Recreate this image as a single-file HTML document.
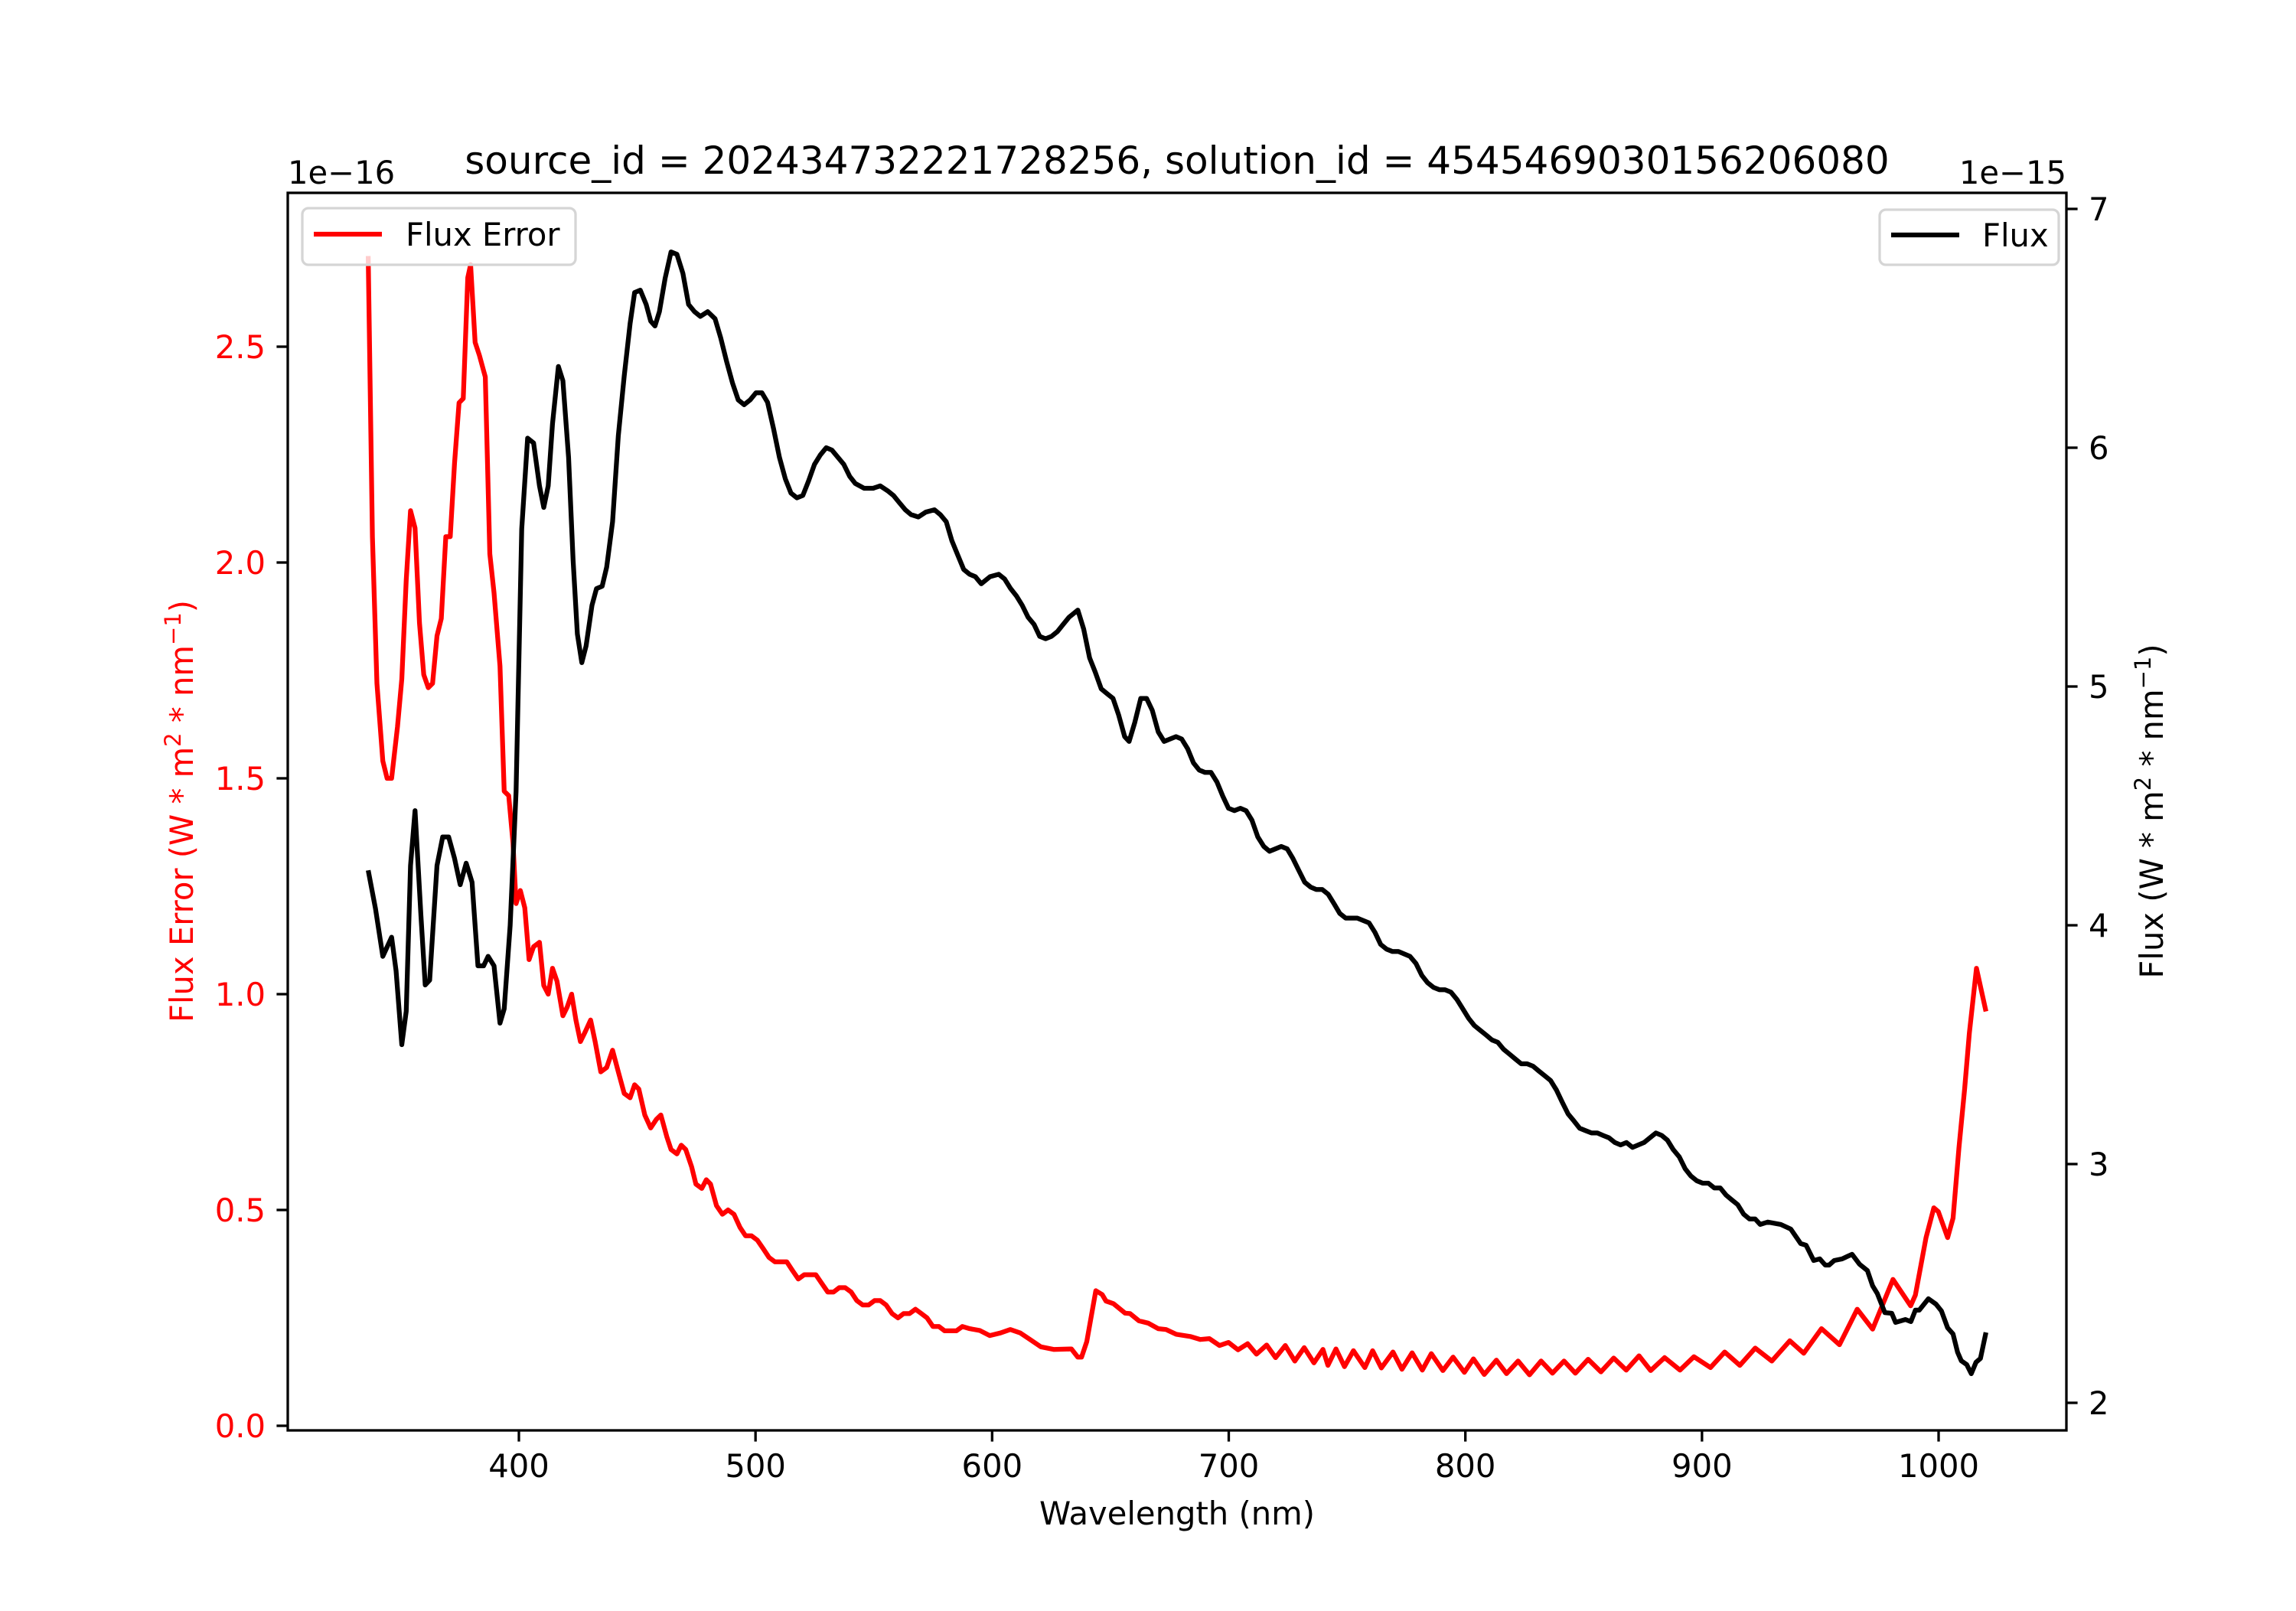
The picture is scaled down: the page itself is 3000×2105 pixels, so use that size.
<!DOCTYPE html>
<html><head><meta charset="utf-8"><style>
html,body{margin:0;padding:0;background:#fff}
svg text{font-family:"DejaVu Sans","Liberation Sans",sans-serif}
</style></head><body>
<svg id="chart" width="3000" height="2100" viewBox="0 0 3000 2100" xmlns="http://www.w3.org/2000/svg">
<rect width="3000" height="2100" fill="#fff"/>
<g id="plot"></g>
<text x="1538" y="227" font-size="50" text-anchor="middle">source_id = 202434732221728256, solution_id = 4545469030156206080</text>
<text x="376" y="240" font-size="41.7">1e−16</text>
<text x="2700" y="240" font-size="41.7" text-anchor="end">1e−15</text>
<text x="1538" y="1992" font-size="41.7" text-anchor="middle">Wavelength (nm)</text>
<text transform="translate(252,1060) rotate(-90)" font-size="41.7" text-anchor="middle" fill="#ff0000">Flux Error (W * m<tspan font-size="29" dy="-16">2</tspan><tspan dy="16"> * nm</tspan><tspan font-size="29" dy="-16">−1</tspan><tspan dy="16">)</tspan></text>
<text transform="translate(2826,1060) rotate(-90)" font-size="41.7" text-anchor="middle">Flux (W * m<tspan font-size="29" dy="-16">2</tspan><tspan dy="16"> * nm</tspan><tspan font-size="29" dy="-16">−1</tspan><tspan dy="16">)</tspan></text>
<g>
<rect x="395" y="272" width="357" height="74" rx="8" fill="#fff" fill-opacity="0.8" stroke="#d5d5d5" stroke-width="3.3"/>
<line x1="410" y1="306" x2="499" y2="306" stroke="#ff0000" stroke-width="6.25"/>
<text x="530" y="321" font-size="41.7">Flux Error</text>
</g>
<g>
<rect x="2456" y="274" width="234" height="72" rx="8" fill="#fff" fill-opacity="0.8" stroke="#d5d5d5" stroke-width="3.3"/>
<line x1="2471" y1="307" x2="2560" y2="307" stroke="#000" stroke-width="6.25"/>
<text x="2590" y="322" font-size="41.7">Flux</text>
</g>
</svg>
<script>
const fluxWl=[336.3,339.4,342.5,346.2,348.1,350.5,352.4,354.2,356.1,358.6,360.4,362.3,365.4,367.8,370.3,372.8,375.2,377.7,380.2,382.7,385.1,387.0,389.5,392.0,393.8,396.3,398.8,401.2,403.7,406.2,408.7,410.5,412.4,414.2,416.7,418.6,421.0,422.9,424.7,426.6,428.4,430.9,432.8,435.2,437.1,439.6,442.0,444.5,447.0,448.9,451.3,453.8,455.7,457.5,459.4,461.8,464.3,466.8,469.3,471.7,474.2,476.7,479.8,482.9,485.3,487.8,490.3,492.7,495.2,497.7,500.2,502.7,505.1,507.6,510.1,512.6,515.0,517.5,520.0,522.4,524.9,527.4,529.9,532.3,534.8,537.3,539.8,542.2,545.9,549.7,552.7,555.8,558.3,560.8,563.3,565.7,568.8,571.9,575.6,578.1,580.6,583.0,585.5,588.0,590.5,592.9,595.4,599.1,602.8,605.3,607.8,610.2,612.7,615.2,617.7,620.1,622.6,625.1,627.6,630.0,632.5,636.2,638.7,641.2,643.6,646.1,648.6,651.1,653.5,656.0,657.9,660.3,662.8,665.3,667.7,670.2,672.7,675.2,677.7,680.1,682.6,685.1,687.5,690.0,692.5,695.0,697.5,699.9,702.4,704.9,707.3,709.8,712.3,714.8,717.2,719.7,722.2,724.7,727.1,729.6,732.1,734.6,737.0,739.5,742.0,744.5,746.9,749.4,751.9,754.3,756.8,759.3,761.8,764.2,766.7,769.2,771.7,774.1,776.6,779.1,781.6,784.0,786.5,789.0,791.4,793.9,796.4,798.9,801.4,803.8,806.3,808.8,811.2,813.7,816.2,818.7,821.1,823.6,826.1,828.6,831.0,833.5,836.0,838.5,840.9,843.4,845.9,848.3,850.8,853.3,855.8,858.2,860.7,863.2,865.6,868.1,870.6,873.1,875.5,878.0,880.5,883.0,885.4,887.9,890.4,892.9,895.3,897.8,900.3,902.7,905.2,907.7,910.2,912.6,915.1,917.6,920.1,922.5,924.6,927.8,933.3,937.5,941.7,944.0,947.2,949.8,952.1,953.7,955.9,959.2,963.4,966.6,969.9,972.1,974.1,977.3,980.2,981.8,986.0,988.3,990.2,991.8,995.7,998.9,1001.2,1003.8,1006.1,1008.0,1009.6,1011.9,1013.8,1015.8,1017.7,1020.0];
const fluxVal=[4.23,4.07,3.87,3.95,3.81,3.50,3.64,4.25,4.48,4.04,3.75,3.77,4.25,4.37,4.37,4.28,4.17,4.26,4.18,3.83,3.83,3.87,3.83,3.59,3.65,4.00,4.56,5.66,6.04,6.02,5.84,5.75,5.84,6.10,6.34,6.28,5.96,5.53,5.22,5.10,5.17,5.34,5.41,5.42,5.50,5.69,6.05,6.30,6.52,6.65,6.66,6.60,6.53,6.51,6.57,6.71,6.82,6.81,6.73,6.60,6.57,6.55,6.57,6.54,6.46,6.36,6.27,6.20,6.18,6.20,6.23,6.23,6.19,6.08,5.96,5.87,5.81,5.79,5.80,5.86,5.93,5.97,6.00,5.99,5.96,5.93,5.88,5.85,5.83,5.83,5.84,5.82,5.80,5.77,5.74,5.72,5.71,5.73,5.74,5.72,5.69,5.61,5.55,5.49,5.47,5.46,5.43,5.46,5.47,5.45,5.41,5.38,5.34,5.29,5.26,5.21,5.20,5.21,5.23,5.26,5.29,5.32,5.24,5.12,5.06,4.99,4.97,4.95,4.88,4.79,4.77,4.85,4.95,4.95,4.90,4.81,4.77,4.78,4.79,4.78,4.74,4.68,4.65,4.64,4.64,4.60,4.54,4.49,4.48,4.49,4.48,4.44,4.37,4.33,4.31,4.32,4.33,4.32,4.28,4.23,4.18,4.16,4.15,4.15,4.13,4.09,4.05,4.03,4.03,4.03,4.02,4.01,3.97,3.92,3.90,3.89,3.89,3.88,3.87,3.84,3.79,3.76,3.74,3.73,3.73,3.72,3.69,3.65,3.61,3.58,3.56,3.54,3.52,3.51,3.48,3.46,3.44,3.42,3.42,3.41,3.39,3.37,3.35,3.31,3.26,3.21,3.18,3.15,3.14,3.13,3.13,3.12,3.11,3.09,3.08,3.09,3.07,3.08,3.09,3.11,3.13,3.12,3.10,3.06,3.03,2.98,2.95,2.93,2.92,2.92,2.90,2.90,2.87,2.85,2.83,2.79,2.77,2.77,2.747,2.757,2.747,2.728,2.667,2.660,2.596,2.603,2.577,2.577,2.596,2.603,2.622,2.580,2.554,2.490,2.458,2.378,2.375,2.337,2.349,2.340,2.388,2.388,2.436,2.413,2.385,2.314,2.288,2.212,2.176,2.160,2.122,2.170,2.186,2.295];
const errWl=[336.3,338.1,340.0,342.5,344.3,346.2,348.7,350.5,352.4,354.2,356.1,358.0,359.8,361.7,363.5,365.4,367.2,369.1,371.0,372.8,374.7,376.5,378.4,379.6,381.5,383.3,385.8,387.7,389.5,392.0,393.8,395.7,397.5,398.8,400.6,402.5,404.3,406.2,408.7,410.5,412.4,414.2,416.1,418.6,420.4,422.3,424.1,426.0,427.8,430.3,432.2,434.6,437.1,439.6,442.0,444.5,447.0,448.9,450.7,453.2,455.7,458.1,460.0,462.5,464.3,466.8,468.6,470.5,473.0,474.8,477.3,479.2,481.0,483.5,486.0,488.4,490.9,493.4,495.8,498.3,500.8,503.3,505.7,508.2,510.7,513.2,515.6,518.1,520.6,523.1,525.5,528.0,530.5,533.0,535.4,537.9,540.4,542.8,545.3,547.8,550.3,552.7,555.2,557.7,560.2,562.6,565.1,567.6,570.1,572.5,575.0,577.5,579.9,582.4,584.9,587.4,590.5,594.7,599.0,603.5,607.7,611.9,616.0,620.6,626.0,633.5,636.2,637.8,640.0,643.8,646.5,648.1,651.3,656.2,658.3,662.1,665.9,670.2,673.5,677.8,683.7,688.0,691.8,696.1,699.9,703.9,708.0,711.7,716.0,719.8,723.9,727.9,731.9,736.0,739.8,741.9,745.3,748.9,752.7,757.5,760.8,764.5,769.4,773.2,777.5,781.8,785.6,790.5,794.8,799.6,803.4,808.0,813.1,817.4,822.3,827.1,832.0,836.8,841.7,846.5,851.9,857.3,862.7,868.0,873.4,878.3,884.2,890.7,896.6,903.6,909.6,916.0,922.5,929.5,937.1,943.0,950.5,958.1,965.6,972.1,980.7,988.2,990.2,994.7,998.0,999.9,1003.8,1006.1,1008.6,1011.0,1013.0,1016.0,1020.0];
const errVal=[2.71,2.06,1.72,1.54,1.50,1.50,1.62,1.73,1.96,2.12,2.08,1.86,1.74,1.71,1.72,1.83,1.87,2.06,2.06,2.23,2.37,2.38,2.66,2.69,2.51,2.48,2.43,2.02,1.93,1.76,1.47,1.46,1.35,1.21,1.24,1.20,1.08,1.11,1.12,1.02,1.00,1.06,1.03,0.95,0.97,1.00,0.94,0.89,0.91,0.94,0.89,0.82,0.83,0.87,0.82,0.77,0.76,0.79,0.78,0.72,0.69,0.71,0.72,0.67,0.64,0.63,0.65,0.64,0.60,0.56,0.55,0.57,0.56,0.51,0.49,0.50,0.49,0.46,0.44,0.44,0.43,0.41,0.39,0.38,0.38,0.38,0.36,0.34,0.35,0.35,0.35,0.33,0.31,0.31,0.32,0.32,0.31,0.29,0.28,0.28,0.29,0.29,0.28,0.26,0.25,0.26,0.26,0.27,0.26,0.25,0.23,0.23,0.22,0.22,0.22,0.23,0.225,0.221,0.209,0.215,0.223,0.215,0.200,0.183,0.177,0.178,0.159,0.159,0.195,0.313,0.304,0.289,0.283,0.261,0.260,0.243,0.238,0.225,0.223,0.212,0.207,0.200,0.202,0.186,0.193,0.176,0.190,0.166,0.187,0.158,0.186,0.150,0.181,0.146,0.177,0.140,0.178,0.137,0.174,0.135,0.174,0.134,0.171,0.131,0.169,0.129,0.167,0.128,0.159,0.124,0.155,0.119,0.152,0.121,0.150,0.118,0.150,0.122,0.150,0.122,0.154,0.125,0.157,0.129,0.162,0.128,0.158,0.129,0.160,0.135,0.171,0.140,0.180,0.150,0.197,0.168,0.225,0.188,0.270,0.224,0.339,0.278,0.303,0.436,0.505,0.496,0.436,0.481,0.644,0.78,0.91,1.06,0.96];
const xTicks=[400,500,600,700,800,900,1000];
const xTickLabels=["400","500","600","700","800","900","1000"];
const errTicks=[0,0.5,1.0,1.5,2.0,2.5];
const errTickLabels=["0.0","0.5","1.0","1.5","2.0","2.5"];
const fluxTicks=[2,3,4,5,6,7];
const fluxTickLabels=["2","3","4","5","6","7"];

const L=376,R=2700,T=252,B=1869;
const xs=nm=>678+(nm-400)*3.0917;
const yErr=v=>1863-v*564;
const yFlux=v=>1833-(v-2)*312;
const NS="http://www.w3.org/2000/svg";
const plot=document.getElementById('plot');
function mk(tag,attrs){const e=document.createElementNS(NS,tag);for(const k in attrs)e.setAttribute(k,attrs[k]);return e;}

const clip=mk('clipPath',{id:'clipAx'});
clip.appendChild(mk('rect',{x:L,y:T,width:R-L,height:B-T}));
plot.appendChild(clip);

const errLine=mk('polyline',{points:errWl.map((w,i)=>xs(w).toFixed(1)+','+yErr(errVal[i]).toFixed(1)).join(' '),fill:'none',stroke:'#ff0000','stroke-width':6.25,'stroke-linejoin':'round','clip-path':'url(#clipAx)'});


plot.appendChild(errLine);

const fluxLine=mk('polyline',{points:fluxWl.map((w,i)=>xs(w).toFixed(1)+','+yFlux(fluxVal[i]).toFixed(1)).join(' '),fill:'none',stroke:'#000','stroke-width':6.25,'stroke-linejoin':'round','clip-path':'url(#clipAx)'});


plot.appendChild(fluxLine);

const frame=mk('rect',{x:L,y:T,width:R-L,height:B-T,fill:'none',stroke:'#000','stroke-width':3.3});


plot.appendChild(frame);

xTicks.forEach((v,i)=>{
  const x=xs(v);
  const t=mk('line',{x1:x,y1:B,x2:x,y2:B+14.6,stroke:'#000','stroke-width':3.3});
  
  
  plot.appendChild(t);
  const l=mk('text',{x:x,y:B+61,'font-size':41.7,'text-anchor':'middle'});
  l.textContent=xTickLabels[i];
  
  
  plot.appendChild(l);
});
errTicks.forEach((v,i)=>{
  const y=yErr(v);
  const t=mk('line',{x1:L,y1:y,x2:L-14.6,y2:y,stroke:'#000','stroke-width':3.3});
  
  
  plot.appendChild(t);
  const l=mk('text',{x:L-29,y:y+15,'font-size':41.7,'text-anchor':'end',fill:'#ff0000'});
  l.textContent=errTickLabels[i];
  
  
  plot.appendChild(l);
});
fluxTicks.forEach((v,i)=>{
  const y=yFlux(v);
  const t=mk('line',{x1:R,y1:y,x2:R+14.6,y2:y,stroke:'#000','stroke-width':3.3});
  
  
  plot.appendChild(t);
  const l=mk('text',{x:R+29,y:y+15,'font-size':41.7,'text-anchor':'start'});
  l.textContent=fluxTickLabels[i];
  
  
  plot.appendChild(l);
});
</script>
</body></html>
